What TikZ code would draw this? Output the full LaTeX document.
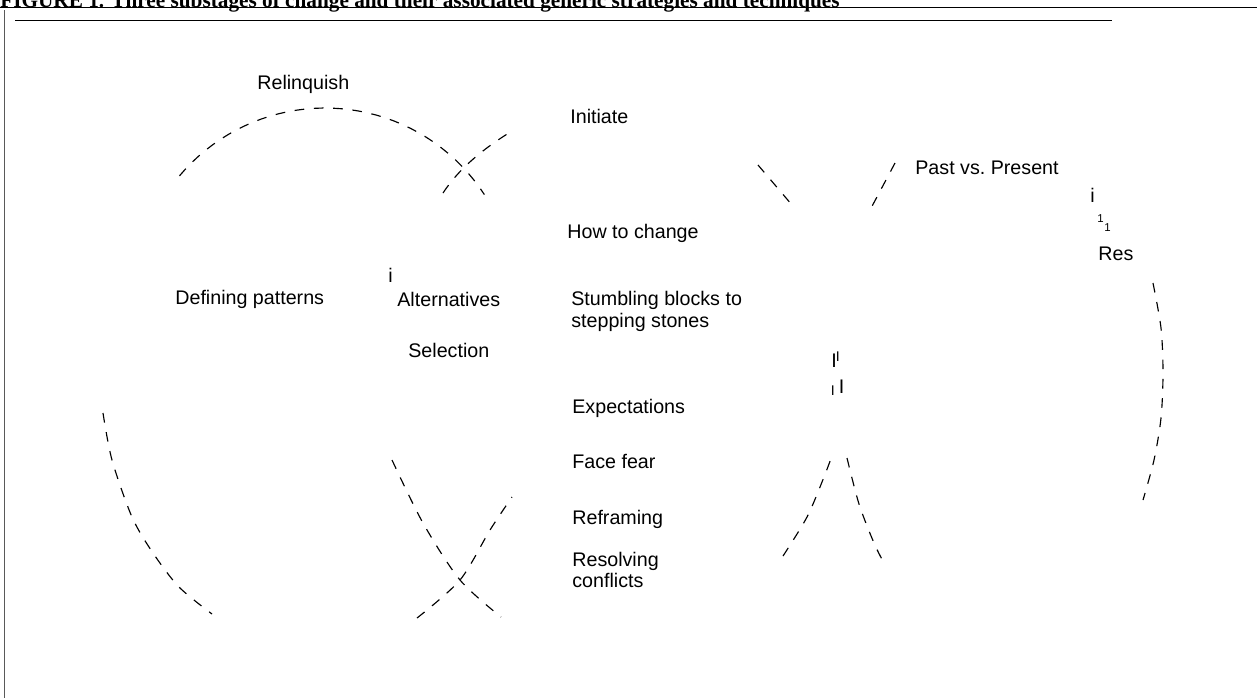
\documentclass[tikz,border=0pt]{standalone}
\usepackage{fontspec}
\setmainfont{Liberation Sans}
\newfontfamily\capfont{Liberation Serif}
\usetikzlibrary{positioning}

\begin{document}
\begin{tikzpicture}[
  x=0.02cm, y=-0.02cm,
  lbl/.style={font=\fontsize{11.2}{13}\selectfont, inner sep=0pt, anchor=base west},
  smalllbl/.style={font=\fontsize{8}{9}\selectfont, inner sep=0pt, anchor=base west},
  digit/.style={font=\fontsize{6.5}{8}\selectfont, inner sep=0pt, anchor=base west},
  dline/.style={line width=0.65pt, dash pattern=on 5.5pt off 5.5pt},
  rule/.style={line width=0.8pt},
]
\useasboundingbox (0,0) rectangle (1257,698);

% Caption and frame
\node[font=\capfont\bfseries\fontsize{12.1}{14}\selectfont, inner sep=0pt,
      anchor=base west] (title) at (0,7)
      {FIGURE 1. Three substages of change and their associated generic strategies and techniques};
\draw[rule] (0,7.5) -- (1257,7.5);
\draw[rule] (15,20.5) -- (1112,20.5);
\draw[rule, black!65] (4.5,10) -- (4.5,698);

% Left column
\node[lbl] (relinq) at (257,89) {Relinquish};
\node[lbl] (define) at (175,304) {Defining patterns};
\node[lbl] (li) at (388,282) {i};
\node[lbl] (altern) at (397,306) {Alternatives};
\node[lbl] (select) at (408,357) {Selection};

% Middle column
\node[lbl] (initiate) at (570,123) {Initiate};
\node[lbl] (howto) at (567,238) {How to change};
\node[lbl] (stumble) at (571,305) {Stumbling blocks to};
\node[lbl] (stepping) at (571,327) {stepping stones};
\node[lbl] (expect) at (572,413) {Expectations};
\node[lbl] (fear) at (572,468) {Face fear};
\node[lbl] (reframe) at (572,524) {Reframing};
\node[lbl] (resolve) at (572,566) {Resolving};
\node[lbl] (conflict) at (572,587) {conflicts};

% Bars
\node[lbl] (bara) at (831,367.5) {I};
\node[smalllbl] (barb) at (835.5,361.5) {I};
\node[smalllbl] (barc) at (830.5,395) {I};
\node[lbl] (bard) at (838.5,393) {I};

% Right column
\node[lbl] (pastpres) at (915,174) {Past vs.\ Present};
\node[lbl] (ri) at (1090,202) {i};
\node[digit] (rsup) at (1097,222) {1};
\node[digit] (rsub) at (1104,231) {1};
\node[lbl] (res) at (1098,260) {Res};

% Dashed arcs
\draw[dline] plot[domain=-140:-33, samples=40] ({325+190*cos(\x)}, {298+190*sin(\x)});
\draw[dline] (443,193) .. controls (458,170) and (481,150) .. (512,131);
\draw[dline] (758,165) -- (792,205);
\draw[dline] (895,163) -- (870,210);
\draw[dline] plot[smooth] coordinates {(1153,283) (1161,328) (1163,373) (1161,418) (1154,460) (1143,500)};
\draw[dline] plot[smooth] coordinates {(103,413) (112,460) (132,517) (153,553) (179,587) (212,614)};
\draw[dline] plot[smooth] coordinates {(392,460) (423,523) (460,580) (501,617)};
\draw[dline] plot[smooth] coordinates {(417,618) (460,580) (490,530) (512,497)};
\draw[dline] plot[smooth] coordinates {(783,556) (807,517) (824,477) (833,453)};
\draw[dline] plot[smooth] coordinates {(847,458) (859,504) (874,543) (885,565)};

\end{tikzpicture}
\end{document}
